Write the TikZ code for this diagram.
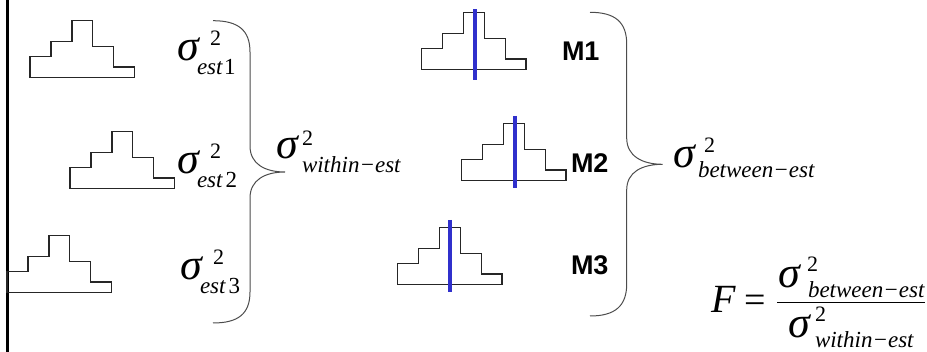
\documentclass[tikz,border=0pt]{standalone}
\usepackage{fontspec}
\setmainfont{Liberation Serif}
\newfontfamily\arialfam{Liberation Sans}
% sigma with stacked superscript 2 and subscript:
% #1 sup x-offset, #2 sup raise, #3 sub x-offset, #4 sub drop, #5 subscript text
\newcommand\sgmlab[5]{\rlap{\fontsize{44}{44}\selectfont\itshape σ}%
  \rlap{\hspace*{#1}\raisebox{#2}{\fontsize{22}{22}\selectfont 2}}%
  \hspace*{#3}\raisebox{-#4}{\fontsize{23}{23}\selectfont\itshape #5}}
\begin{document}
\begin{tikzpicture}[x=1pt,y=-1pt,
  txt/.style={inner sep=0pt,outer sep=0pt,anchor=base west},
  hist/.style={draw=black!85,line width=1.1pt},
  mean/.style={draw={rgb,255:red,48;green,48;blue,204},line width=4pt},
  brace/.style={draw=black!70,line width=1pt},
  mlab/.style={txt,font=\fontsize{27}{27}\arialfam\bfseries},
  histo/.pic={\draw[hist] (0,0) -- (0,-20.5) -- (21,-20.5) -- (21,-36) -- (42,-36) -- (42,-57) -- (62.5,-57) -- (62.5,-31) -- (83.5,-31) -- (83.5,-10.3) -- (104.3,-10.3) -- (104.3,0) -- cycle;}]
\useasboundingbox (0,0) rectangle (927,352);
% left rule
\draw[line width=2.6pt] (7.5,0) -- (7.5,352);
% left histograms
\pic at (30,77.3) {histo};
\pic at (70,188.3) {histo};
\pic at (7,292.3) {histo};
% sigma_est labels
\node[txt] (s1) at (177,61) {\sgmlab{33pt}{15pt}{20pt}{14pt}{est\kern1.5pt{\upshape 1}}};
\node[txt] (s2) at (177,174) {\sgmlab{33pt}{15pt}{20pt}{14pt}{est\kern3pt{\upshape 2}}};
\node[txt] (s3) at (180,280) {\sgmlab{33pt}{15pt}{20pt}{14pt}{est\kern3pt{\upshape 3}}};
% brace 1
\draw[brace] (213,20.7) .. controls (238,20.7) and (250,30) .. (250,52) -- (250,146) .. controls (250,164) and (265,172) .. (285,172) .. controls (265,172) and (250,180) .. (250,198) -- (250,292) .. controls (250,314) and (238,323) .. (213,323);
% within
\node[txt] (sw) at (276,159) {\sgmlab{26pt}{13pt}{26pt}{14pt}{within−est}};
% right histograms with mean lines
\pic at (421.7,69.3) {histo};
\draw[mean] (475,9.3) -- (475,80.3);
\pic at (461.7,180.3) {histo};
\draw[mean] (515,116) -- (515,187.7);
\pic at (397.7,284.3) {histo};
\draw[mean] (450,220) -- (450,291.7);
\node[mlab] (m1) at (562,61) {M1};
\node[mlab] (m2) at (571,173) {M2};
\node[mlab] (m3) at (571,275) {M3};
% brace 2
\draw[brace] (590,12.3) .. controls (615,12.3) and (626.7,22) .. (626.7,44) -- (626.7,138) .. controls (626.7,156) and (642,164.3) .. (662.7,164.3) .. controls (642,164.3) and (626.7,172) .. (626.7,190) -- (626.7,284) .. controls (626.7,306) and (615,316) .. (590,316);
% between
\node[txt] (sb) at (673,168) {\sgmlab{31pt}{15pt}{25pt}{10pt}{between−est}};
% F ratio
\node[txt,font=\fontsize{40}{40}\selectfont\itshape] (F) at (711,313) {F};
\node[txt,font=\fontsize{38}{38}\selectfont] (eq) at (744,313) {=};
\draw[line width=1.4pt] (777,302.7) -- (925,302.7);
\node[txt] (fn) at (778,288) {\sgmlab{29pt}{16pt}{30pt}{10pt}{between−est}};
\node[txt] (fd) at (788,338) {\sgmlab{27pt}{16pt}{27pt}{10pt}{within−est}};
\end{tikzpicture}
\end{document}
